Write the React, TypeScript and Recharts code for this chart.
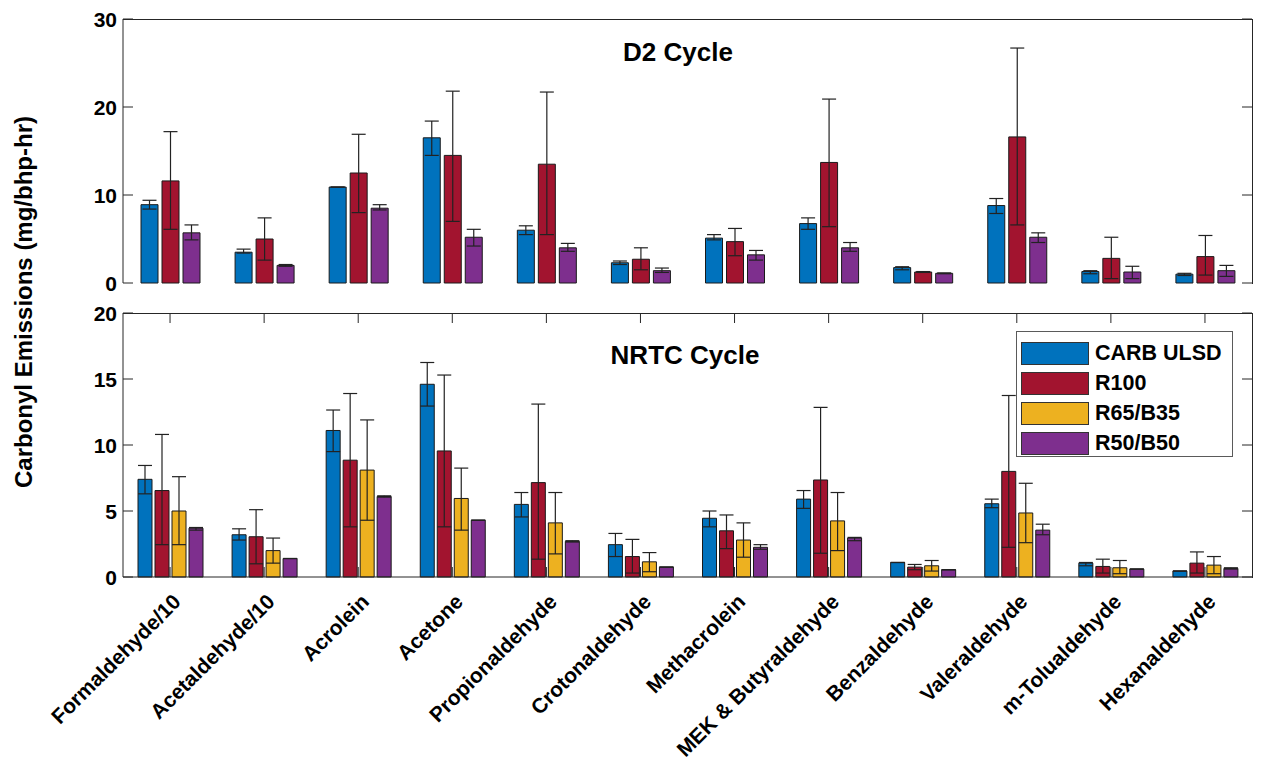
import React from 'react';
import { BarChart, Bar, XAxis, YAxis, ErrorBar, Legend } from 'recharts';

const compounds = [
  'Formaldehyde/10', 'Acetaldehyde/10', 'Acrolein', 'Acetone', 'Propionaldehyde', 'Crotonaldehyde',
  'Methacrolein', 'MEK & Butyraldehyde', 'Benzaldehyde', 'Valeraldehyde', 'm-Tolualdehyde', 'Hexanaldehyde',
];

const seriesOrder = ['CARB ULSD', 'R100', 'R65/B35', 'R50/B50'];

// D2 cycle: mean, lower and upper ends of the error bars
const d2Carb = [8.9, 3.5, 10.9, 16.5, 6.0, 2.3, 5.1, 6.75, 1.75, 8.8, 1.3, 1.0];
const d2CarbLo = [8.4, 3.4, 10.9, 14.5, 5.5, 2.1, 4.9, 6.1, 1.5, 7.9, 1.05, 0.85];
const d2CarbHi = [9.4, 3.85, 10.9, 18.4, 6.5, 2.5, 5.5, 7.4, 1.85, 9.6, 1.4, 1.1];
const d2R100 = [11.6, 5.0, 12.5, 14.5, 13.5, 2.7, 4.7, 13.7, 1.25, 16.6, 2.8, 3.0];
const d2R100Lo = [6.1, 2.6, 8.0, 7.0, 5.5, 1.5, 3.1, 6.4, 1.2, 6.6, 0.5, 0.9];
const d2R100Hi = [17.2, 7.4, 16.9, 21.8, 21.7, 4.0, 6.2, 20.9, 1.3, 26.7, 5.2, 5.4];
const d2R50 = [5.7, 2.0, 8.5, 5.2, 4.0, 1.4, 3.2, 4.0, 1.1, 5.2, 1.25, 1.4];
const d2R50Lo = [4.9, 1.9, 8.3, 4.2, 3.6, 1.2, 2.6, 3.6, 1.05, 4.6, 0.5, 0.75];
const d2R50Hi = [6.6, 2.1, 8.9, 6.1, 4.5, 1.7, 3.7, 4.6, 1.15, 5.7, 1.9, 2.0];

// NRTC cycle
const nrCarb = [7.4, 3.2, 11.1, 14.6, 5.5, 2.45, 4.45, 5.9, 1.1, 5.55, 1.05, 0.45];
const nrCarbLo = [6.3, 2.8, 9.5, 12.95, 4.55, 1.55, 3.8, 5.2, 1.1, 5.25, 0.85, 0.45];
const nrCarbHi = [8.45, 3.65, 12.65, 16.25, 6.4, 3.3, 5.0, 6.55, 1.1, 5.9, 1.1, 0.45];
const nrR100 = [6.55, 3.05, 8.85, 9.55, 7.15, 1.55, 3.5, 7.35, 0.75, 8.0, 0.8, 1.05];
const nrR100Lo = [2.45, 1.0, 3.8, 3.8, 1.35, 0.3, 2.15, 1.8, 0.55, 2.25, 0.3, 0.3];
const nrR100Hi = [10.8, 5.1, 13.9, 15.3, 13.1, 2.85, 4.7, 12.85, 0.95, 13.75, 1.35, 1.9];
const nrR65 = [5.0, 2.0, 8.1, 5.95, 4.1, 1.15, 2.8, 4.25, 0.85, 4.85, 0.7, 0.9];
const nrR65Lo = [2.45, 1.05, 4.3, 3.55, 1.75, 0.4, 1.5, 2.0, 0.45, 2.6, 0.25, 0.25];
const nrR65Hi = [7.6, 2.95, 11.9, 8.25, 6.4, 1.85, 4.1, 6.4, 1.25, 7.1, 1.25, 1.55];
const nrR50 = [3.7, 1.4, 6.1, 4.3, 2.7, 0.75, 2.25, 2.95, 0.55, 3.55, 0.6, 0.65];
const nrR50Lo = [3.55, 1.4, 6.05, 4.3, 2.65, 0.75, 2.1, 2.75, 0.55, 3.2, 0.6, 0.6];
const nrR50Hi = [3.75, 1.4, 6.15, 4.3, 2.75, 0.75, 2.45, 3.0, 0.55, 4.0, 0.6, 0.7];

const d2Ticks = [0, 10, 20, 30];
const nrTicks = [0, 5, 10, 15, 20];

const COLORS = { carb: '#0072BD', r100: '#A2142F', r65: '#EDB120', r50: '#7E2F8E' };
const FONT = '"Liberation Sans", Arial, Helvetica, sans-serif';
const AXIS = '#262626';
const EDGE = '#1a1a1a';

// plot box
const PLOT_LEFT = 123;
const PLOT_W = 1129;
const PLOT_H = 264;

const err = (v: number, lo: number, hi: number) => [Math.max(0, v - lo), Math.max(0, hi - v)];

const d2Data = compounds.map((name, i) => ({
  name,
  carb: d2Carb[i], carbErr: err(d2Carb[i], d2CarbLo[i], d2CarbHi[i]),
  r100: d2R100[i], r100Err: err(d2R100[i], d2R100Lo[i], d2R100Hi[i]),
  r50: d2R50[i], r50Err: err(d2R50[i], d2R50Lo[i], d2R50Hi[i]),
}));

const nrData = compounds.map((name, i) => ({
  name,
  carb: nrCarb[i], carbErr: err(nrCarb[i], nrCarbLo[i], nrCarbHi[i]),
  r100: nrR100[i], r100Err: err(nrR100[i], nrR100Lo[i], nrR100Hi[i]),
  r65: nrR65[i], r65Err: err(nrR65[i], nrR65Lo[i], nrR65Hi[i]),
  r50: nrR50[i], r50Err: err(nrR50[i], nrR50Lo[i], nrR50Hi[i]),
}));

// y tick: label outside, short inward marks on both sides of the box
function LeftTick(props: any) {
  const { x, y, payload } = props;
  const ax = x + 6;
  return (
    <g>
      <text x={x} y={y} textAnchor="end" dominantBaseline="central" fontSize={21} fontWeight="bold"
        fontFamily={FONT} fill="#000">{payload.value}</text>
      <line x1={ax} x2={ax + 10} y1={y} y2={y} stroke={AXIS} />
      <line x1={ax + PLOT_W - 10} x2={ax + PLOT_W} y1={y} y2={y} stroke={AXIS} />
    </g>
  );
}

function BottomMark(props: any) {
  const { x, y } = props;
  return (
    <g>
      <line x1={x} x2={x} y1={y} y2={y - 10} stroke={AXIS} />
      <line x1={x} x2={x} y1={y - PLOT_H} y2={y - PLOT_H + 10} stroke={AXIS} />
    </g>
  );
}

function CategoryTick(props: any) {
  const { x, y, payload } = props;
  return (
    <g>
      <line x1={x} x2={x} y1={y} y2={y - 10} stroke={AXIS} />
      <line x1={x} x2={x} y1={y - PLOT_H} y2={y - PLOT_H + 10} stroke={AXIS} />
      <text transform={`translate(${x + 12},${y + 26}) rotate(-45)`} textAnchor="end" fontSize={21}
        fontWeight="bold" fontFamily={FONT} fill="#000">{payload.value}</text>
    </g>
  );
}

function LegendBox(props: any) {
  const items = [...(props.payload || [])].sort(
    (a: any, b: any) => seriesOrder.indexOf(a.value) - seriesOrder.indexOf(b.value));
  return (
    <div style={{ border: '1px solid #5a5a5a', background: '#fff', padding: '6px 4px 4px 4px', boxSizing: 'border-box', width: 217, height: 126 }}>
      {items.map((p: any) => (
        <div key={p.value} style={{ display: 'flex', alignItems: 'center', height: 30 }}>
          <div style={{ width: 68, height: 23, background: p.color, border: '1px solid #333', boxSizing: 'border-box' }} />
          <span style={{ marginLeft: 6, fontFamily: FONT, fontWeight: 'bold', fontSize: 21.5, color: '#000' }}>{p.value}</span>
        </div>
      ))}
    </div>
  );
}

const titleStyle: React.CSSProperties = {
  position: 'absolute', transform: 'translateX(-50%)', fontFamily: FONT, fontWeight: 'bold',
  fontSize: 26, lineHeight: '26px', whiteSpace: 'nowrap', color: '#000',
};

const boxStyle: React.CSSProperties = {
  position: 'absolute', left: PLOT_LEFT, width: PLOT_W + 1, height: PLOT_H + 1,
  borderTop: `1px solid ${AXIS}`, borderRight: `1px solid ${AXIS}`, boxSizing: 'border-box', pointerEvents: 'none',
};

export default function App() {
  return (
    <div style={{ position: 'absolute', left: 0, top: 0, width: 1265, height: 771, background: '#fff' }}>
      <div style={{ position: 'absolute', left: 0, top: 0 }}>
        <BarChart width={1265} height={300} data={d2Data} margin={{ top: 19, right: 13, bottom: 17, left: 0 }}
          barSize={17} barGap={4}>
          <XAxis dataKey="name" height={0} tickSize={0} tickMargin={0} tickLine={false}
            axisLine={{ stroke: AXIS }} tick={<BottomMark />} interval={0} />
          <YAxis width={123} domain={[0, 30]} ticks={d2Ticks} tickSize={0} tickMargin={6} tickLine={false}
            axisLine={{ stroke: AXIS }} tick={<LeftTick />} />
          <Bar dataKey="carb" name="CARB ULSD" fill={COLORS.carb} stroke={EDGE} strokeWidth={1} isAnimationActive={false}>
            <ErrorBar dataKey="carbErr" width={7} stroke="#222" strokeWidth={1.2} />
          </Bar>
          <Bar dataKey="r100" name="R100" fill={COLORS.r100} stroke={EDGE} strokeWidth={1} isAnimationActive={false}>
            <ErrorBar dataKey="r100Err" width={7} stroke="#222" strokeWidth={1.2} />
          </Bar>
          <Bar dataKey="r50" name="R50/B50" fill={COLORS.r50} stroke={EDGE} strokeWidth={1} isAnimationActive={false}>
            <ErrorBar dataKey="r50Err" width={7} stroke="#222" strokeWidth={1.2} />
          </Bar>
        </BarChart>
      </div>
      <div style={{ ...boxStyle, top: 19 }} />

      <div style={{ position: 'absolute', left: 0, top: 300 }}>
        <BarChart width={1265} height={471} data={nrData} margin={{ top: 13, right: 13, bottom: 0, left: 0 }}
          barSize={14} barGap={3}>
          <XAxis dataKey="name" height={194} tickSize={0} tickMargin={0} tickLine={false}
            axisLine={{ stroke: AXIS }} tick={<CategoryTick />} interval={0} />
          <YAxis width={123} domain={[0, 20]} ticks={nrTicks} tickSize={0} tickMargin={6} tickLine={false}
            axisLine={{ stroke: AXIS }} tick={<LeftTick />} />
          <Legend layout="vertical" align="center" verticalAlign="middle" content={<LegendBox />}
            wrapperStyle={{ left: 1016, top: 31, width: 217, height: 126 }} />
          <Bar dataKey="carb" name="CARB ULSD" fill={COLORS.carb} stroke={EDGE} strokeWidth={1} isAnimationActive={false}>
            <ErrorBar dataKey="carbErr" width={7} stroke="#222" strokeWidth={1.2} />
          </Bar>
          <Bar dataKey="r100" name="R100" fill={COLORS.r100} stroke={EDGE} strokeWidth={1} isAnimationActive={false}>
            <ErrorBar dataKey="r100Err" width={7} stroke="#222" strokeWidth={1.2} />
          </Bar>
          <Bar dataKey="r65" name="R65/B35" fill={COLORS.r65} stroke={EDGE} strokeWidth={1} isAnimationActive={false}>
            <ErrorBar dataKey="r65Err" width={7} stroke="#222" strokeWidth={1.2} />
          </Bar>
          <Bar dataKey="r50" name="R50/B50" fill={COLORS.r50} stroke={EDGE} strokeWidth={1} isAnimationActive={false}>
            <ErrorBar dataKey="r50Err" width={7} stroke="#222" strokeWidth={1.2} />
          </Bar>
        </BarChart>
      </div>
      <div style={{ ...boxStyle, top: 313 }} />

      <div style={{ ...titleStyle, left: 678, top: 39 }}>D2 Cycle</div>
      <div style={{ ...titleStyle, left: 685, top: 342 }}>NRTC Cycle</div>

      <div style={{
        position: 'absolute', left: 24, top: 302, transform: 'translate(-50%, -50%) rotate(-90deg)',
        fontFamily: FONT, fontWeight: 'bold', fontSize: 24, whiteSpace: 'nowrap', color: '#000',
      }}>
        Carbonyl Emissions (mg/bhp-hr)
      </div>
    </div>
  );
}
